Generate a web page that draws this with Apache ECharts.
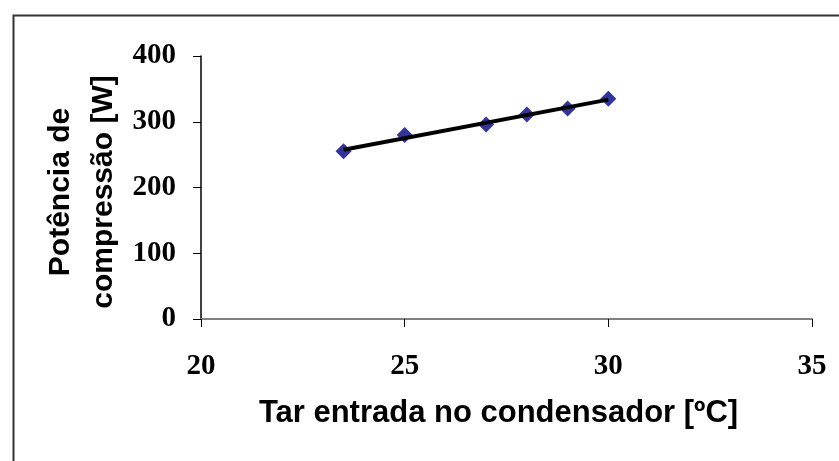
<!DOCTYPE html>
<html>
<head>
<meta charset="utf-8">
<script src="https://cdn.jsdelivr.net/npm/echarts@6/dist/echarts.min.js"></script>
<style>
html,body{margin:0;padding:0;background:#fff;}
#chart{width:839px;height:461px;}
</style>
</head>
<body>
<div id="chart"></div>
<script>
// Data
const tempC = [23.5, 25, 27, 28, 29, 30];
const powerW = [255, 280, 296, 311, 320, 335];
const xTicks = [20, 25, 30, 35];
const yTicks = [0, 100, 200, 300, 400];
const xTitle = 'Tar entrada no condensador [ºC]';
const yTitle = 'Potência de\ncompressão [W]';

// Linear trend line (least squares) computed from the data
const n = tempC.length;
const mx = tempC.reduce((a, b) => a + b, 0) / n;
const my = powerW.reduce((a, b) => a + b, 0) / n;
let sxy = 0, sxx = 0;
for (let i = 0; i < n; i++) { sxy += (tempC[i] - mx) * (powerW[i] - my); sxx += (tempC[i] - mx) ** 2; }
const slope = sxy / sxx, icpt = my - slope * mx;
const xFirst = Math.min(...tempC), xLast = Math.max(...tempC);
const trend = [[xFirst, icpt + slope * xFirst], [xLast, icpt + slope * xLast]];

const chart = echarts.init(document.getElementById('chart'), null, {renderer: 'canvas'});
chart.setOption({
  animation: false,
  backgroundColor: '#ffffff',
  grid: {left: 201, top: 56, right: 27, bottom: 142, containLabel: false},
  xAxis: {
    type: 'value', min: xTicks[0], max: xTicks[xTicks.length - 1], interval: 5,
    name: xTitle, nameLocation: 'middle', nameGap: 79,
    nameTextStyle: {fontFamily: 'Liberation Sans, Arial', fontWeight: 'bold', fontSize: 31, color: '#000', padding: [0, 16, 0, 0]},
    axisLine: {show: true, onZero: false, lineStyle: {color: '#808080', width: 2}},
    axisTick: {show: true, inside: false, length: 8, lineStyle: {color: '#000', width: 1}},
    axisLabel: {margin: 33, fontFamily: 'Liberation Serif, Times New Roman', fontWeight: 'bold', fontSize: 29, color: '#000'},
    splitLine: {show: false}
  },
  yAxis: {
    type: 'value', min: yTicks[0], max: yTicks[yTicks.length - 1], interval: 100,
    axisLine: {show: true, onZero: false, lineStyle: {color: '#000', width: 1.5}},
    axisTick: {show: true, inside: false, length: 8, lineStyle: {color: '#000', width: 1}},
    axisLabel: {margin: 25, fontFamily: 'Liberation Serif, Times New Roman', fontWeight: 'bold', fontSize: 29, color: '#000'},
    splitLine: {show: false}
  },
  graphic: [
    {type: 'rect', left: 11, top: 13, z: -10, silent: true,
     shape: {width: 900, height: 500},
     style: {fill: 'none', stroke: '#333', lineWidth: 2}},
    {type: 'text', x: 82, y: 192, rotation: Math.PI / 2, z: 10,
     style: {text: yTitle, fontFamily: 'Liberation Sans, Arial', fontWeight: 'bold', fontSize: 30,
             lineHeight: 43, fill: '#000', textAlign: 'center', textVerticalAlign: 'middle', align: 'center', verticalAlign: 'middle'}}
  ],
  series: [
    {
      type: 'scatter', data: tempC.map((x, i) => [x, powerW[i]]),
      symbol: 'diamond', symbolSize: 16,
      itemStyle: {color: '#000080'}, z: 2
    },
    {
      type: 'line', data: trend, showSymbol: false, symbol: 'none',
      lineStyle: {color: '#000', width: 4}, z: 3
    }
  ]
});
</script>
</body>
</html>
